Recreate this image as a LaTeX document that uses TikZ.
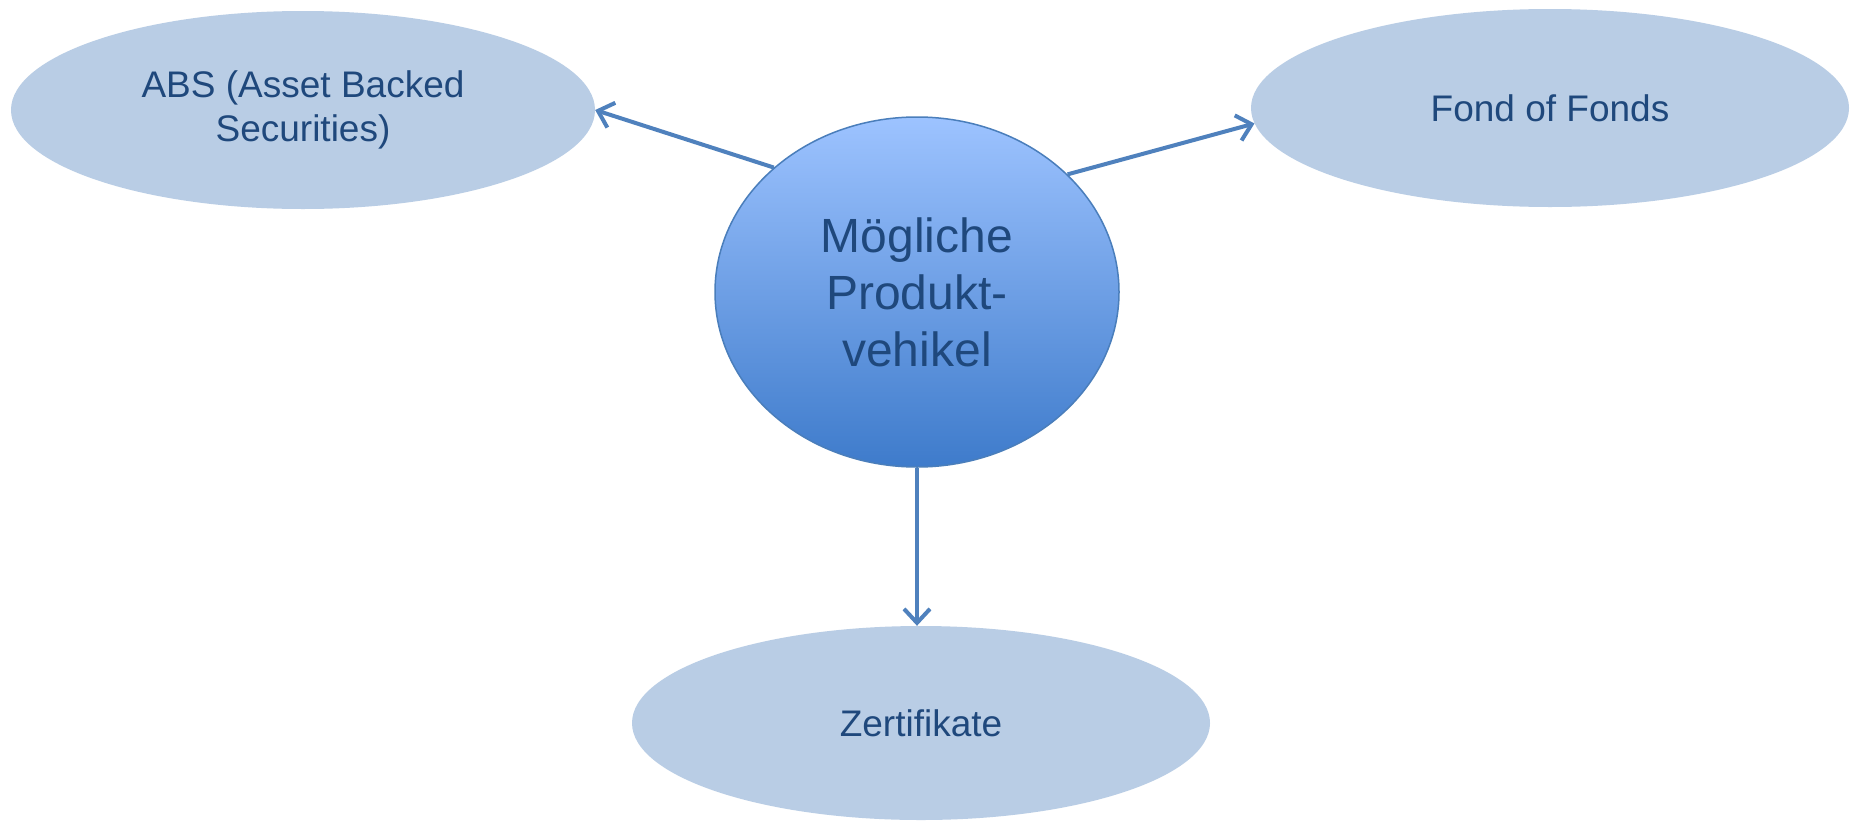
\documentclass[tikz,border=0pt]{standalone}
\usepackage{fontspec}
\setmainfont{Liberation Sans}
\usetikzlibrary{shapes.geometric,arrows.meta}
\definecolor{leaf}{HTML}{B9CDE5}
\definecolor{ink}{HTML}{1F487C}
\definecolor{hubtop}{HTML}{9DC3FF}
\definecolor{hubbot}{HTML}{3E7BCB}
\definecolor{hubrim}{HTML}{4A7EBB}
\definecolor{link}{HTML}{4F81BD}
\tikzset{
  leafnode/.style={ellipse, fill=leaf, inner sep=0pt, text=ink, align=center,
    font=\fontsize{37}{44}\selectfont},
  hubnode/.style={ellipse, draw=hubrim, line width=1.5pt, top color=hubtop,
    bottom color=hubbot, inner sep=0pt, text=ink, align=center,
    minimum width=404pt, minimum height=350pt, font=\fontsize{48}{57}\selectfont},
  link/.style={draw=link, line width=4pt,
    -{Straight Barb[length=14pt,width=26pt,line width=4pt]}}
}
\begin{document}
\begin{tikzpicture}[x=1pt,y=-1pt]
\useasboundingbox (0,0) rectangle (1851,822);
\fill[white] (0,0) rectangle (1851,822);
% outer product vehicles
\node[leafnode, minimum width=584pt, minimum height=198pt] (abs) at (303,110)
  {ABS (Asset Backed\\Securities)};
\node[leafnode, minimum width=598pt, minimum height=198pt] (fof) at (1550,108)
  {Fond of Fonds};
\node[leafnode, minimum width=578pt, minimum height=194pt] (zert) at (921,723)
  {Zertifikate};
% central hub
\node[hubnode] (hub) at (917,292) {Mögliche\\Produkt-\\vehikel};
% connectors
\draw[link] (hub.139) -- (abs.east);
\draw[link] (hub.38) -- (fof.183);
\draw[link] (hub.south) -- (hub.south |- zert.north);
\end{tikzpicture}
\end{document}
